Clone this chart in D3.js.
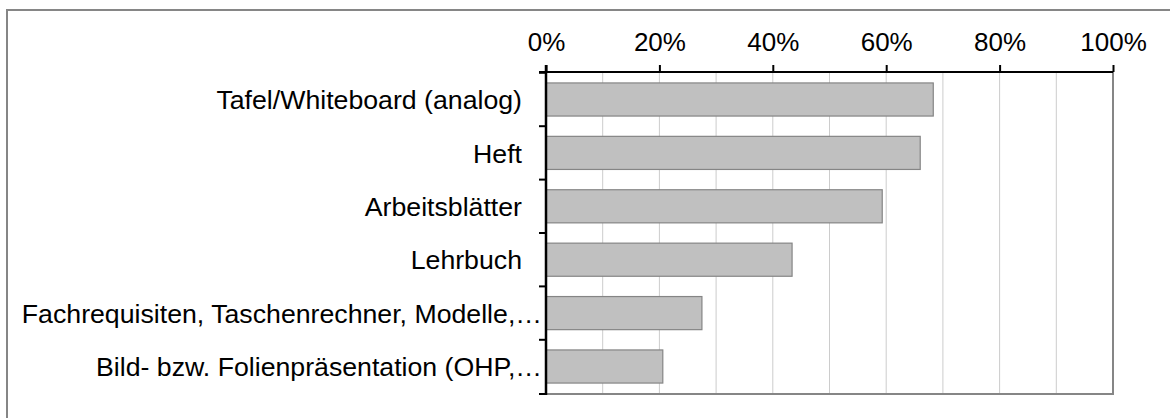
<!DOCTYPE html>
<html>
<head>
<meta charset="utf-8">
<script src="https://cdn.jsdelivr.net/npm/d3@7"></script>
<style>
  html, body { margin: 0; padding: 0; background: #fff; }
  svg { display: block; }
  text { font-family: "Liberation Sans", Arial, sans-serif; fill: #000; }
</style>
</head>
<body>
<svg id="chart" width="1170" height="418"></svg>
<script>
// Share of lessons in which each medium is used
const categories = [
  "Tafel/Whiteboard (analog)",
  "Heft",
  "Arbeitsblätter",
  "Lehrbuch",
  "Fachrequisiten, Taschenrechner, Modelle,…",
  "Bild- bzw. Folienpräsentation (OHP,…"
];
const shares = [0.683, 0.660, 0.593, 0.434, 0.275, 0.206];
const tickValues = [0, 0.2, 0.4, 0.6, 0.8, 1.0];
const gridValues = [0.1, 0.2, 0.3, 0.4, 0.5, 0.6, 0.7, 0.8, 0.9];

const svg = d3.select("#chart");
const plot = { left: 546, right: 1113, top: 72, bottom: 394 };

// outer frame
svg.append("rect")
  .attr("x", 7).attr("y", 10)
  .attr("width", 1300).attr("height", 600)
  .attr("fill", "none")
  .attr("stroke", "#868686")
  .attr("stroke-width", 2);

const x = d3.scaleLinear().domain([0, 1]).range([plot.left, plot.right]);
const y = d3.scaleBand()
  .domain(categories)
  .range([plot.top, plot.bottom])
  .paddingInner(0.38)
  .paddingOuter(0.205);

// vertical gridlines
svg.append("g")
  .selectAll("line")
  .data(gridValues)
  .join("line")
  .attr("x1", d => x(d)).attr("x2", d => x(d))
  .attr("y1", plot.top).attr("y2", plot.bottom)
  .attr("stroke", "#cccccc")
  .attr("stroke-width", 1);

// right and bottom plot border
svg.append("path")
  .attr("d", `M${plot.right},${plot.top}V${plot.bottom}H${plot.left}`)
  .attr("fill", "none")
  .attr("stroke", "#868686")
  .attr("stroke-width", 2);

// bars
svg.append("g")
  .selectAll("rect")
  .data(categories)
  .join("rect")
  .attr("x", x(0))
  .attr("y", d => y(d))
  .attr("width", (d, i) => x(shares[i]) - x(0))
  .attr("height", y.bandwidth())
  .attr("fill", "#c0c0c0")
  .attr("stroke", "#858585")
  .attr("stroke-width", 1.2);

// top percentage axis
const topAxis = d3.axisTop(x)
  .tickValues(tickValues)
  .tickFormat(d3.format(".0%"))
  .tickSize(7)
  .tickPadding(14)
  .tickSizeOuter(0);

const gTop = svg.append("g")
  .attr("transform", `translate(0,${plot.top})`)
  .call(topAxis);
gTop.select(".domain")
  .attr("stroke", "#000")
  .attr("stroke-width", 2)
  .attr("d", `M${plot.left - 7},0H${plot.right}`);
gTop.selectAll(".tick line").attr("stroke", "#000").attr("stroke-width", 2);
gTop.selectAll(".tick text")
  .attr("font-size", 26)
  .attr("font-family", '"Liberation Sans", Arial, sans-serif')
  .attr("fill", "#000");

// left category axis with ticks between categories
const step = y.step();
const boundaries = categories.map(c => y(c) - step * y.paddingInner() / 2);
boundaries.push(plot.bottom);

const gLeft = svg.append("g");
gLeft.append("line")
  .attr("x1", plot.left).attr("x2", plot.left)
  .attr("y1", plot.top - 7).attr("y2", plot.bottom + 1)
  .attr("stroke", "#000")
  .attr("stroke-width", 2.5);
gLeft.selectAll("line.tk")
  .data(boundaries)
  .join("line")
  .attr("class", "tk")
  .attr("x1", plot.left - 7).attr("x2", plot.left)
  .attr("y1", d => d).attr("y2", d => d)
  .attr("stroke", "#000")
  .attr("stroke-width", 2);

gLeft.selectAll("text")
  .data(categories)
  .join("text")
  .attr("x", d => plot.left - (d.endsWith("…") ? 4 : 24))
  .attr("y", d => y(d) + y.bandwidth() / 2)
  .attr("dy", "0.36em")
  .attr("text-anchor", "end")
  .attr("font-size", 26.7)
  .text(d => d);
</script>
</body>
</html>
